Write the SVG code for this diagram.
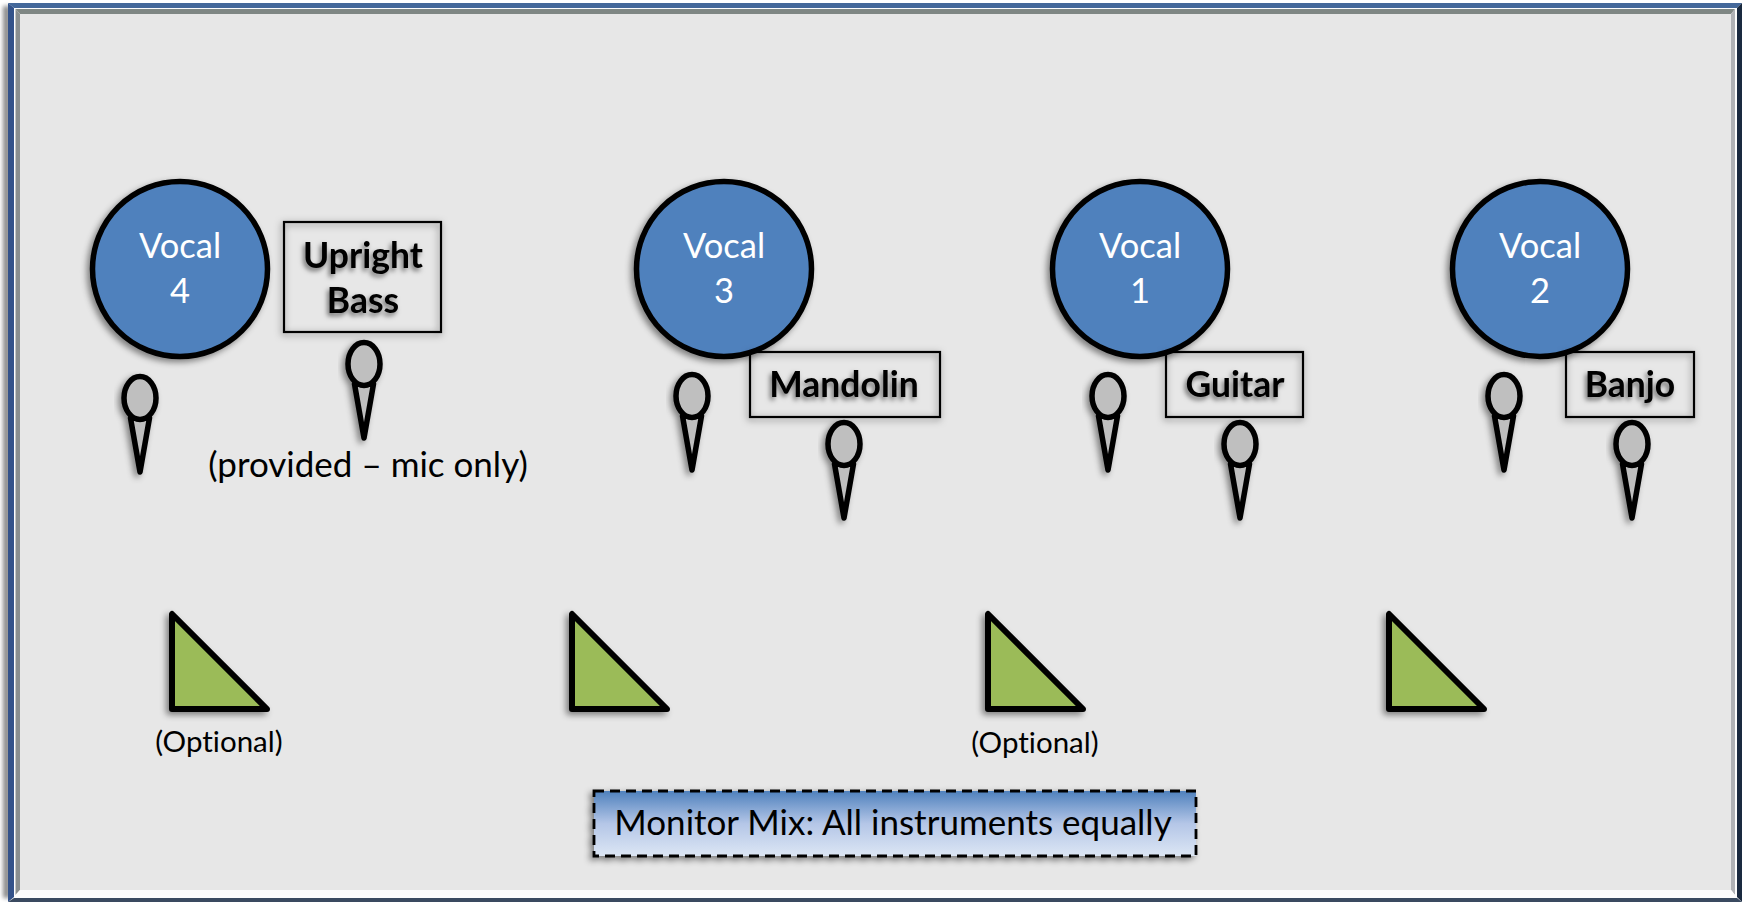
<svg xmlns="http://www.w3.org/2000/svg" width="1750" height="904" viewBox="0 0 1750 904">
<style>
text{font-family:"Lato","Open Sans","Liberation Sans",sans-serif;text-anchor:middle;font-variant-ligatures:none}
.v{font-size:34.5px;fill:#fff}
.b{font-size:35.5px;font-weight:700;fill:#000;filter:url(#ts)}
.n{font-size:35px;fill:#000}
.o{font-size:29.5px;fill:#000}
.c{fill:#4f81bd;stroke:#000;stroke-width:5.5;filter:url(#ds)}
.box{fill:none;stroke:#000;stroke-width:2.2;filter:url(#ds2)}
.tri{fill:#9bbb59;stroke:#000;stroke-width:6;stroke-linejoin:round;filter:url(#ds)}
.cone{fill:#bfbfbf;stroke:#000;stroke-width:5.5;stroke-linejoin:round}
.head{fill:#bfbfbf;stroke:#000;stroke-width:5.5}
.mic{filter:url(#ds)}
</style>
<defs>
<filter id="ds" x="-30%" y="-30%" width="160%" height="160%"><feDropShadow dx="-3" dy="3" stdDeviation="3" flood-color="#000" flood-opacity=".45"/></filter>
<filter id="ds2" x="-10%" y="-20%" width="120%" height="140%"><feDropShadow dx="-1" dy="2" stdDeviation="3.5" flood-color="#000" flood-opacity=".5"/></filter>
<filter id="ts" x="-15%" y="-30%" width="130%" height="160%"><feDropShadow dx="-2" dy="3" stdDeviation="2.5" flood-color="#000" flood-opacity=".55"/></filter>
<linearGradient id="mg" x1="0" y1="0" x2="0" y2="1"><stop offset="0" stop-color="#4f81bd"/><stop offset=".5" stop-color="#b4c6e7"/><stop offset="1" stop-color="#dce6f4"/></linearGradient>
<filter id="blur1" x="-300%" width="700%"><feGaussianBlur stdDeviation="2"/></filter>
<g id="m"><path class="cone" d="M-9.500 20L0 74L9.500 20Z"/><ellipse class="head" cx="0" cy="0" rx="16" ry="21.500"/></g>
</defs>
<rect width="1750" height="904" fill="#fff"/>
<g id="frame">
<rect x="3" y="6" width="7" height="892" fill="#000" opacity=".45" filter="url(#blur1)"/>
<rect x="8" y="3" width="1734" height="899" fill="#fdfdfd"/>
<rect x="20" y="14" width="1712" height="876" fill="#e7e7e7"/>
<polygon points="8,3 1742,3 1737,8 14,8" fill="#44689a"/>
<polygon points="8,3 14,8 14,897 8,902" fill="#34538a"/>
<polygon points="1742,3 1742,902 1737,897 1737,8" fill="#1a2a40"/>
<polygon points="8,902 1742,902 1737,898 14,898" fill="#3a4a60"/>
<polygon points="15.500,9 1735,9 1731,14 20,14" fill="#7f8784"/>
<polygon points="15.500,9 20,14 20,890 15.500,895" fill="#8a8f90"/>
<polygon points="1735,9 1735,895 1731,890 1731,14" fill="#b0b2b6"/>
<polygon points="15.500,895 1735,895 1731,890 20,890" fill="#fcfcfc"/>
</g>
<g id="connectors"></g>
<g id="vocal4"><circle class="c" cx="180" cy="269" r="87.500"/><text class="v" x="180" y="258">Vocal</text><text class="v" x="180" y="303">4</text></g>
<g id="vocal3"><circle class="c" cx="724" cy="269" r="87.500"/><text class="v" x="724" y="258">Vocal</text><text class="v" x="724" y="303">3</text></g>
<g id="vocal1"><circle class="c" cx="1140" cy="269" r="87.500"/><text class="v" x="1140" y="258">Vocal</text><text class="v" x="1140" y="303">1</text></g>
<g id="vocal2"><circle class="c" cx="1540" cy="269" r="87.500"/><text class="v" x="1540" y="258">Vocal</text><text class="v" x="1540" y="303">2</text></g>
<g id="bass"><rect class="box" x="284" y="222" width="157" height="110"/><text class="b" x="363" y="268">Upright</text><text class="b" x="363" y="313">Bass</text></g>
<g id="mandolin"><rect class="box" x="750" y="352" width="190" height="65"/><text class="b" x="844" y="397">Mandolin</text></g>
<g id="guitar"><rect class="box" x="1166" y="352" width="137" height="65"/><text class="b" x="1235" y="397">Guitar</text></g>
<g id="banjo"><rect class="box" x="1566" y="352" width="128" height="65"/><text class="b" x="1630" y="397">Banjo</text></g>
<g id="mic-vocal4" class="mic"><use href="#m" x="140" y="398"/></g>
<g id="mic-bass" class="mic"><use href="#m" x="364" y="364"/></g>
<g id="mic-vocal3" class="mic"><use href="#m" x="692" y="396"/></g>
<g id="mic-mandolin" class="mic"><use href="#m" x="844" y="444"/></g>
<g id="mic-vocal1" class="mic"><use href="#m" x="1108" y="396"/></g>
<g id="mic-guitar" class="mic"><use href="#m" x="1240" y="444"/></g>
<g id="mic-vocal2" class="mic"><use href="#m" x="1504" y="396"/></g>
<g id="mic-banjo" class="mic"><use href="#m" x="1632" y="444"/></g>
<g id="note-bass"><text class="n" x="368" y="477">(provided – mic only)</text></g>
<g id="monitor1"><polygon class="tri" points="172,614 172,709 267,709"/><text class="o" x="219" y="752">(Optional)</text></g>
<g id="monitor2"><polygon class="tri" points="572,614 572,709 667,709"/></g>
<g id="monitor3"><polygon class="tri" points="988,614 988,709 1083,709"/><text class="o" x="1035" y="753">(Optional)</text></g>
<g id="monitor4"><polygon class="tri" points="1389,614 1389,709 1484,709"/></g>
<g id="monitor-mix"><rect x="594" y="791" width="602" height="65" fill="url(#mg)" stroke="#000" stroke-width="2.800" stroke-dasharray="10 6" filter="url(#ds)"/><text class="n" x="893" y="835">Monitor Mix: All instruments equally</text></g>
</svg>
